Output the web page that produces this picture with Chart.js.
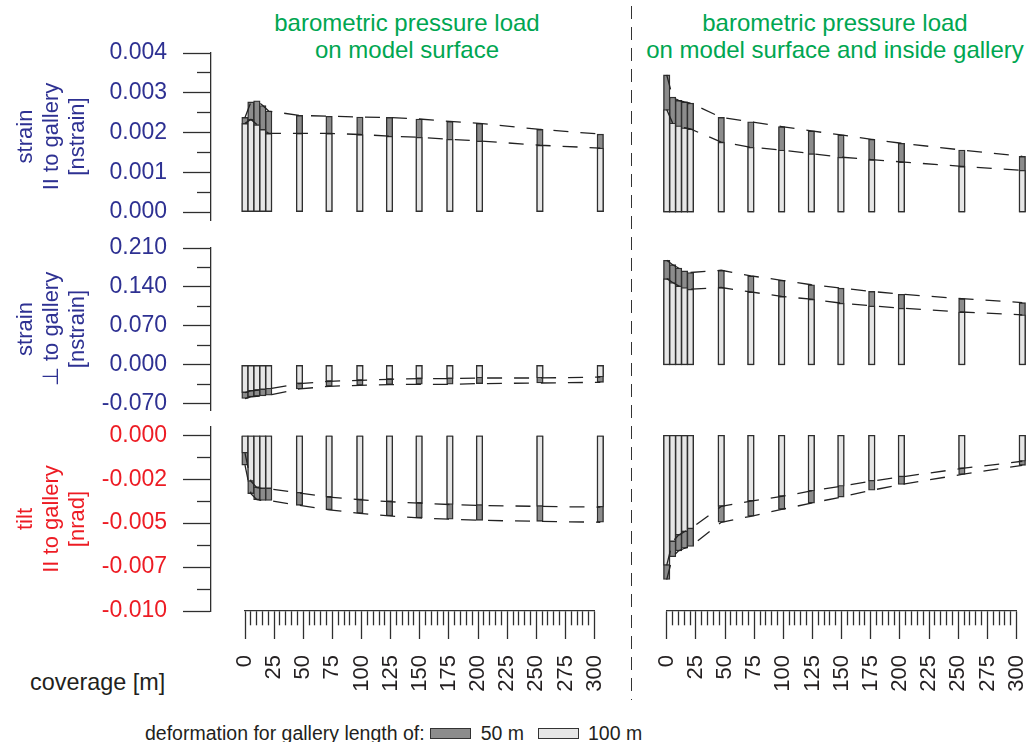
<!DOCTYPE html>
<html>
<head>
<meta charset="utf-8">
<script src="https://cdn.jsdelivr.net/npm/chart.js@4.4.1/dist/chart.umd.min.js"></script>
<style>
  body { margin: 0; background: #fff; }
  #wrap { position: relative; width: 1032px; height: 742px; overflow: hidden;
          font-family: "Liberation Sans", Arial, sans-serif; color: #231f20; }
  #wrap canvas { position: absolute; }
  .head { position: absolute; top: 9px; width: 440px; text-align: center;
          font-size: 24px; line-height: 27px; color: #00a651; white-space: nowrap; }
  .divider { position: absolute; left: 631px; top: 6px; width: 1.4px; height: 694px;
             background: repeating-linear-gradient(to bottom, #333 0 13px, transparent 13px 21px); }
  .cov { position: absolute; left: 30px; top: 669px; font-size: 23.4px; line-height: 26px; }
  .legend { position: absolute; left: 145px; top: 722px; font-size: 19.5px; line-height: 22px;
            white-space: nowrap; }
  .legend .box { display: inline-block; width: 39px; height: 9px; border: 1px solid #333;
                 vertical-align: 1px; margin: 0 10px 0 5px; }
</style>
</head>
<body>
<div id="wrap">
  <div class="head" style="left:187px">barometric pressure load<br>on model surface</div>
  <div class="head" style="left:615px">barometric pressure load<br>on model surface and inside gallery</div>
  <div class="divider"></div>
  <div class="cov">coverage [m]</div>
  <div class="legend">deformation for gallery length of:<span class="box" style="background:#8c8c8c"></span>50 m<span class="box" style="background:#e6e6e6;margin-left:14px;margin-right:9px"></span>100 m</div>
</div>
<script>
// bar positions along the coverage axis [m]
const coverage = [0, 5, 10, 15, 20, 46, 71, 97, 122, 147, 173, 198, 249, 300];

// strain parallel to gallery
const surfParGal50  = [0.00238, 0.00277, 0.00280, 0.00268, 0.00254, 0.00243, 0.00241, 0.00239, 0.00238, 0.00234, 0.00228, 0.00223, 0.00208, 0.00196];
const surfParGal100 = [0.00223, 0.00233, 0.00220, 0.00208, 0.00198, 0.00198, 0.00198, 0.00195, 0.00191, 0.00188, 0.00183, 0.00179, 0.00168, 0.00161];
const gallParGal50  = [0.00345, 0.00289, 0.00281, 0.00277, 0.00274, 0.00238, 0.00227, 0.00215, 0.00204, 0.00194, 0.00183, 0.00173, 0.00156, 0.00140];
const gallParGal100 = [0.00258, 0.00224, 0.00217, 0.00212, 0.00209, 0.00176, 0.00163, 0.00156, 0.00147, 0.00138, 0.00132, 0.00126, 0.00115, 0.00105];

// strain perpendicular to gallery
const surfPerpGal50  = [-0.0604, -0.0575, -0.0563, -0.0557, -0.0545, -0.0432, -0.0384, -0.0366, -0.0354, -0.0348, -0.0348, -0.0336, -0.0325, -0.0313];
const surfPerpGal100 = [-0.0497, -0.0468, -0.0455, -0.0443, -0.0432, -0.0336, -0.0295, -0.0277, -0.0259, -0.0247, -0.0247, -0.0235, -0.0235, -0.0218];
const gallPerpGal50  = [0.188, 0.180, 0.174, 0.169, 0.166, 0.170, 0.160, 0.152, 0.144, 0.138, 0.132, 0.127, 0.119, 0.112];
const gallPerpGal100 = [0.155, 0.148, 0.142, 0.139, 0.136, 0.139, 0.131, 0.123, 0.118, 0.111, 0.106, 0.102, 0.095, 0.090];

// tilt parallel to gallery
const surfTilt50  = [-0.00170, -0.00332, -0.00367, -0.00371, -0.00371, -0.00399, -0.00424, -0.00444, -0.00459, -0.00470, -0.00478, -0.00484, -0.00490, -0.00495];
const surfTilt100 = [-0.00102, -0.00262, -0.00298, -0.00304, -0.00304, -0.00329, -0.00352, -0.00367, -0.00378, -0.00386, -0.00394, -0.00399, -0.00405, -0.00409];
const gallTilt50  = [-0.00821, -0.00691, -0.00658, -0.00643, -0.00633, -0.00495, -0.00461, -0.00422, -0.00386, -0.00352, -0.00313, -0.00280, -0.00223, -0.00171];
const gallTilt100 = [-0.00740, -0.00605, -0.00568, -0.00549, -0.00533, -0.00405, -0.00375, -0.00348, -0.00317, -0.00290, -0.00261, -0.00237, -0.00189, -0.00148];

// axis ticks and their labels
const parTicks  = [0.004, 0.003, 0.002, 0.001, 0];
const parLabels = ['0.004', '0.003', '0.002', '0.001', '0.000'];
const perpTicks  = [0.21, 0.14, 0.07, 0, -0.07];
const perpLabels = ['0.210', '0.140', '0.070', '0.000', '-0.070'];
const tiltTicks  = [0, -0.0025, -0.005, -0.0075, -0.01];
const tiltLabels = ['0.000', '-0.002', '-0.005', '-0.007', '-0.010'];
const coverageTicks = [0, 25, 50, 75, 100, 125, 150, 175, 200, 225, 250, 275, 300];

const FONT = '"Liberation Sans", Arial, sans-serif';
const DARK = '#8c8c8c', LIGHT = '#e6e6e6', EDGE = '#2f2f2f';
const BLUE = '#2e3192', RED = '#ed1c24';
const PAD = 30;   // room above/below each panel for the end tick labels

Chart.defaults.font.family = FONT;
Chart.defaults.animation = false;

const wrap = document.getElementById('wrap');
function addCanvas(left, top, w, h) {
    const c = document.createElement('canvas');
    c.width = w; c.height = h;
    c.style.left = left + 'px';
    c.style.top = top + 'px';
    wrap.appendChild(c);
    return c.getContext('2d');
}

function pts(ys) {
    return coverage.map((x, i) => ({x: x, y: ys[i]}));
}

function isIn(v, list) {
    return list.some(m => Math.abs(m - v) < 1e-9);
}

function withMinor(majors) {
    const out = majors.slice();
    for (let i = 0; i < majors.length - 1; i++) {
        out.push((majors[i] + majors[i + 1]) / 2);
    }
    return out.sort((a, b) => a - b);
}

function makePanel(p) {
    const ctx = addCanvas(p.left, p.top - PAD, p.width, p.bottom - p.top + 2 * PAD);
    const hasAxis = !!p.ticks;
    const yScale = {
        display: hasAxis,
        min: p.min,
        max: p.max
    };
    if (hasAxis) {
        Object.assign(yScale, {
            afterFit: s => { s.width = 211; },
            afterBuildTicks: s => { s.ticks = withMinor(p.ticks).map(v => ({value: v})); },
            grid: {
                display: true,
                drawOnChartArea: false,
                drawTicks: true,
                tickLength: 28,
                tickColor: EDGE,
                tickWidth: 1.3,
                tickBorderDash: c => (c.tick && !isIn(c.tick.value, p.ticks)) ? [14, 14] : [],
                tickBorderDashOffset: c => (c.tick && !isIn(c.tick.value, p.ticks)) ? 14 : 0
            },
            border: {display: true, color: EDGE, width: 1.3},
            ticks: {
                autoSkip: false,
                padding: 16,
                color: p.color,
                font: {size: 23},
                callback: v => {
                    const i = p.ticks.findIndex(m => Math.abs(m - v) < 1e-9);
                    return i >= 0 ? p.labels[i] : '';
                }
            },
            title: {
                display: true,
                text: p.title,
                color: p.color,
                font: {size: 22, lineHeight: '26px'},
                padding: {top: 13, bottom: 0}
            }
        });
    }
    new Chart(ctx, {
        type: 'bar',
        data: {
            datasets: [{
                type: 'line',
                data: pts(p.v50),
                borderColor: '#222',
                borderWidth: 1.3,
                borderDash: [15, 12],
                pointRadius: 0,
                order: 0
            }, {
                type: 'line',
                data: pts(p.v100),
                borderColor: '#222',
                borderWidth: 1.3,
                borderDash: [15, 12],
                pointRadius: 0,
                order: 0
            }, {
                label: '100 m',
                data: pts(p.v100),
                backgroundColor: LIGHT,
                borderColor: EDGE,
                borderWidth: 1.4,
                borderSkipped: false,
                barThickness: 6.5,
                grouped: false,
                order: 1
            }, {
                label: '50 m',
                data: pts(p.v50),
                backgroundColor: DARK,
                borderColor: EDGE,
                borderWidth: 1.4,
                borderSkipped: false,
                barThickness: 6.5,
                grouped: false,
                order: 2
            }]
        },
        options: {
            responsive: false,
            devicePixelRatio: 1,
            events: [],
            layout: {padding: {top: PAD, bottom: PAD, left: 0, right: 0}},
            plugins: {legend: {display: false}, tooltip: {enabled: false}},
            scales: {
                x: {type: 'linear', display: false, offset: false, grid: {offset: false},
                    min: p.xMin, max: p.xMax},
                y: yScale
            }
        }
    });
}

function makeRuler(left, padLeft, width, padRight) {
    const ctx = addCanvas(left, 591, width, 110);
    const steps = [];
    for (let v = 0; v <= 300; v += 5) steps.push(v);
    new Chart(ctx, {
        type: 'bar',
        data: {datasets: []},
        options: {
            responsive: false,
            devicePixelRatio: 1,
            events: [],
            layout: {padding: {top: 0, bottom: 0, left: padLeft, right: padRight}},
            plugins: {legend: {display: false}, tooltip: {enabled: false}},
            scales: {
                x: {
                    type: 'linear',
                    position: 'bottom',
                    offset: false,
                    min: 0,
                    max: 300,
                    afterFit: s => { s.height = 90; },
                    afterBuildTicks: s => { s.ticks = steps.map(v => ({value: v})); },
                    grid: {
                        display: true,
                        offset: false,
                        drawOnChartArea: false,
                        drawTicks: true,
                        tickLength: 28,
                        tickColor: EDGE,
                        tickWidth: 1.3,
                        tickBorderDash: c => (c.tick && !isIn(c.tick.value, coverageTicks)) ? [14, 40] : []
                    },
                    border: {display: true, color: EDGE, width: 1.3},
                    ticks: {
                        autoSkip: false,
                        minRotation: 90,
                        maxRotation: 90,
                        padding: 16,
                        color: '#231f20',
                        font: {size: 22},
                        callback: v => isIn(v, coverageTicks) ? String(v) : ''
                    }
                },
                y: {display: false}
            }
        }
    });
}

// left column: chart area 211..625, coverage 0 at x=245, 300 at x=600.3
const kL = 355.3 / 300;
const leftX = {left: 0, width: 625, xMin: -(245 - 211) / kL, xMax: (625 - 245) / kL};
// right column: chart area 640..1032, coverage 0 at x=666.7, 300 at x=1022.3
const kR = 355.6 / 300;
const rightX = {left: 640, width: 392, xMin: -(666.7 - 640) / kR, xMax: (1032 - 666.7) / kR};

const rows = [
    {top: 53, bottom: 220, min: -0.0002, max: 0.004, ticks: parTicks, labels: parLabels, color: BLUE,
     title: ['strain', 'II to gallery', '[nstrain]'],
     surf: [surfParGal50, surfParGal100], gall: [gallParGal50, gallParGal100]},
    {top: 248, bottom: 410, min: -0.081, max: 0.21, ticks: perpTicks, labels: perpLabels, color: BLUE,
     title: ['strain', '\u22A5 to gallery', '[nstrain]'],
     surf: [surfPerpGal50, surfPerpGal100], gall: [gallPerpGal50, gallPerpGal100]},
    {top: 427, bottom: 611, min: -0.01, max: 0.00047, ticks: tiltTicks, labels: tiltLabels, color: RED,
     title: ['tilt', 'II to gallery', '[nrad]'],
     surf: [surfTilt50, surfTilt100], gall: [gallTilt50, gallTilt100]}
];

rows.forEach(r => {
    makePanel(Object.assign({}, leftX, {
        top: r.top, bottom: r.bottom, min: r.min, max: r.max,
        ticks: r.ticks, labels: r.labels, color: r.color, title: r.title,
        v50: r.surf[0], v100: r.surf[1]
    }));
    makePanel(Object.assign({}, rightX, {
        top: r.top, bottom: r.bottom, min: r.min, max: r.max,
        v50: r.gall[0], v100: r.gall[1]
    }));
});

// rulers: coverage 0..300 mapped onto 245..600.3 (left) and 666.7..1022.3 (right)
makeRuler(209, 36, 428, 36.7);
makeRuler(630, 36.7, 429, 36.7);
</script>
</body>
</html>
